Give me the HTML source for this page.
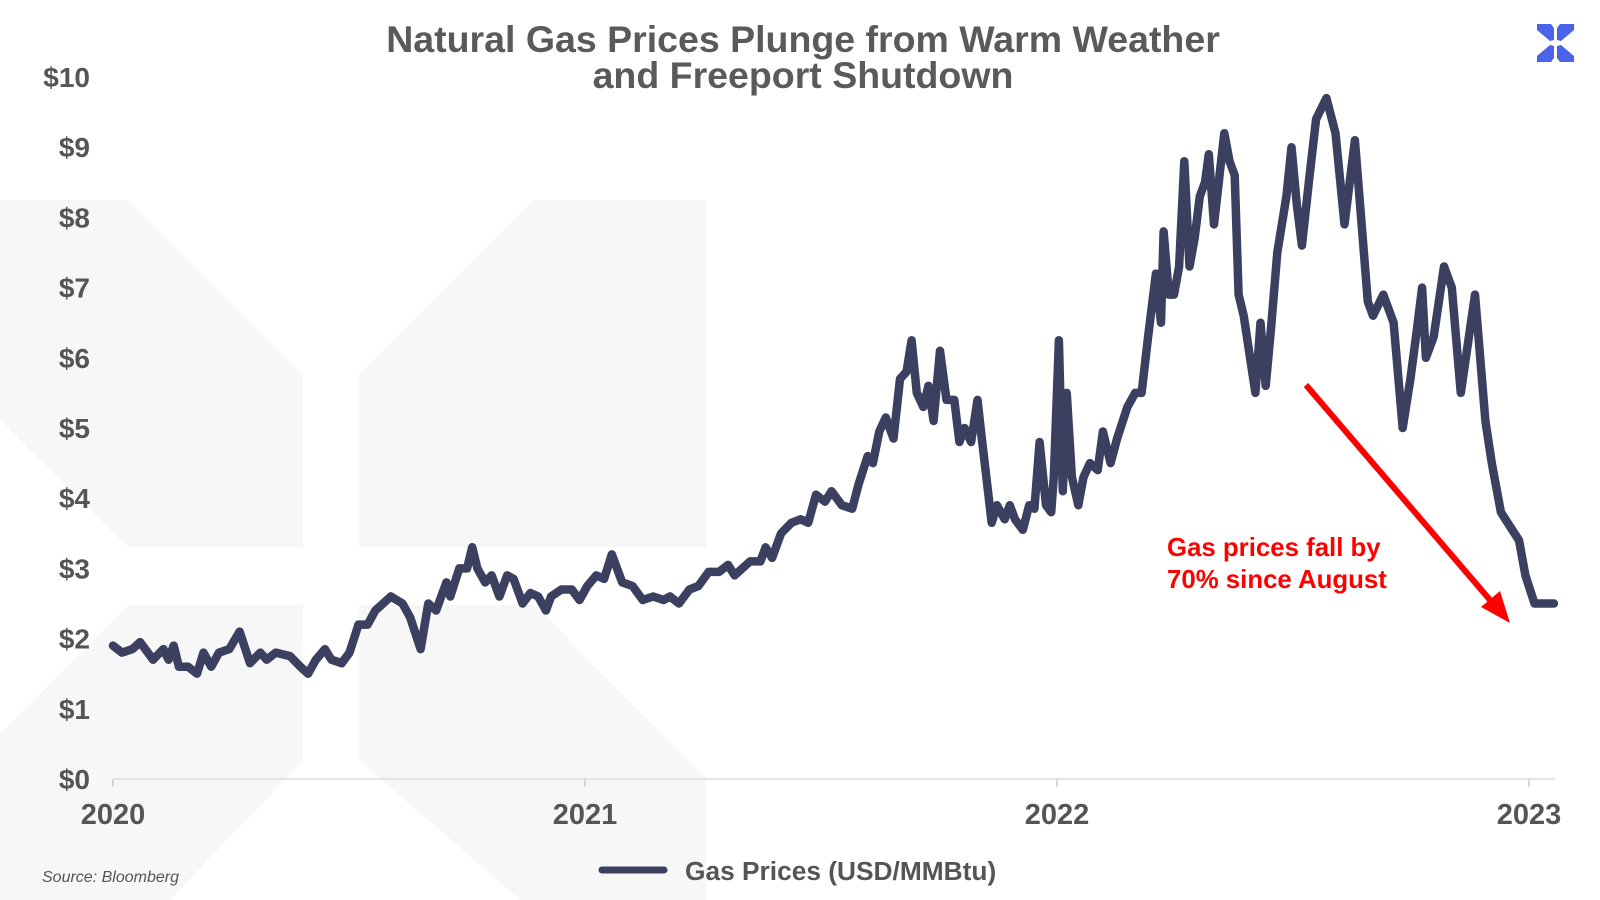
<!DOCTYPE html>
<html><head><meta charset="utf-8"><style>
html,body{margin:0;padding:0;background:#fff;}
svg{display:block;font-family:"Liberation Sans",Arial,sans-serif;}
</style></head><body>
<svg id="chart" width="1600" height="900" viewBox="0 0 1600 900" xmlns="http://www.w3.org/2000/svg">
<g fill="#f7f7f7">
<polygon points="0,200 128,200 303,375 303,547 128,547 0,420"/>
<polygon points="0,735 128,605 303,605 303,760 170,900 0,900"/>
<polygon points="359,375 534,200 706,200 706,547 359,547"/>
<polygon points="359,605 534,605 706,778 706,900 520,900 359,760"/>
</g>
<g fill="#5a5a5a" font-weight="bold" font-size="37.5" text-anchor="middle">
<text x="803" y="52">Natural Gas Prices Plunge from Warm Weather</text>
<text x="803" y="88">and Freeport Shutdown</text>
</g>
<g fill="#4a63e8">
<polygon points="1537,24 1551,24 1554,28 1554,40 1550,41 1537,30"/>
<polygon points="1574,24 1560,24 1557,28 1557,40 1561,41 1574,30"/>
<polygon points="1537,62 1551,62 1554,58 1554,46 1550,45 1537,56"/>
<polygon points="1574,62 1560,62 1557,58 1557,46 1561,45 1574,56"/>
</g>
<g id="yaxis"></g>
<g id="xaxis"></g>
<g id="series"></g>
<g>
<line x1="1306" y1="385" x2="1496" y2="607" stroke="#ff0000" stroke-width="6"/>
<polygon points="1510,623 1481,607 1500,591" fill="#ff0000"/>
<text x="1167" y="556" fill="#ff0000" font-weight="bold" font-size="25.8">Gas prices fall by</text>
<text x="1167" y="588" fill="#ff0000" font-weight="bold" font-size="25.8">70% since August</text>
</g>
<g>
<line x1="602" y1="870" x2="664" y2="870" stroke="#3b4060" stroke-width="7" stroke-linecap="round"/>
<text x="685" y="880" fill="#555" font-weight="bold" font-size="26.3">Gas Prices (USD/MMBtu)</text>
</g>
<text x="42" y="882" fill="#555" font-style="italic" font-size="16">Source: Bloomberg</text>
</svg>
<script>
const days = [0,7,15,21,31,39,43,47,51,58,65,70,76,82,90,98,106,114,119,126,137,145,151,157,164,169,177,183,190,197,203,209,215,224,230,238,244,250,258,261,268,274,278,282,288,293,299,305,310,317,323,329,335,339,347,355,361,367,
374,380,386,394,402,410,418,426,431,438,446,453,461,469,476,481,493,501,505,510,517,525,532,538,544,551,556,564,572,577,584,588,593,598,604,609,614,618,622,627,631,635,640,645,651,655,659,664,669,672,680,684,690,694,698,704,709,713,717,722,726,728,
732,735,738,742,747,751,756,762,766,772,777,785,791,796,801,807,811,813,817,821,825,829,833,837,841,845,848,852,860,864,868,871,875,884,888,892,896,901,908,912,916,920,926,931,939,946,953,961,971,975,983,991,998,1004,1009,1013,1016,1022,1030,1036,1043,1054,1062,1067,1074,1081,1088,1093,1100,1107,1115];
const prices = [1.9,1.8,1.85,1.95,1.7,1.85,1.7,1.9,1.6,1.6,1.5,1.8,1.6,1.8,1.85,2.1,1.65,1.8,1.7,1.8,1.75,1.6,1.5,1.7,1.85,1.7,1.65,1.8,2.2,2.2,2.4,2.5,2.6,2.5,2.3,1.85,2.5,2.4,2.8,2.6,3.0,3.0,3.3,3.0,2.8,2.9,2.6,2.9,2.85,2.5,2.65,2.6,2.4,2.6,2.7,2.7,2.55,2.75,
2.9,2.85,3.2,2.8,2.75,2.55,2.6,2.55,2.6,2.5,2.7,2.75,2.95,2.95,3.05,2.9,3.1,3.1,3.3,3.15,3.5,3.65,3.7,3.65,4.05,3.95,4.1,3.9,3.85,4.2,4.6,4.5,4.95,5.15,4.85,5.7,5.8,6.25,5.5,5.3,5.6,5.1,6.1,5.4,5.4,4.8,5.0,4.8,5.4,4.9,3.65,3.9,3.7,3.9,3.7,3.55,3.9,3.85,4.8,3.9,3.8,4.3,
6.25,4.1,5.5,4.3,3.9,4.3,4.5,4.4,4.95,4.5,4.85,5.3,5.5,5.5,6.3,7.2,6.5,7.8,6.9,6.9,7.3,8.8,7.3,7.7,8.3,8.5,8.9,7.9,9.2,8.8,8.6,6.9,6.6,5.5,6.5,5.6,6.4,7.5,8.3,9.0,8.2,7.6,8.6,9.4,9.7,9.2,7.9,9.1,6.8,6.6,6.9,6.5,5.0,5.7,6.4,7.0,6.0,6.3,7.3,7.0,5.5,6.9,5.1,4.5,3.8,3.6,3.4,2.9,2.5,2.5,2.5];
const yTicks = [0,1,2,3,4,5,6,7,8,9,10];
const yTickLabels = ["$0","$1","$2","$3","$4","$5","$6","$7","$8","$9","$10"];
const xTickYears = [0,1,2,3];
const xTickLabels = ["2020","2021","2022","2023"];

const NS = "http://www.w3.org/2000/svg";
const X0 = 113, PXY = 472, Y0 = 779, PXV = 70.2;
function xScale(d){ return X0 + d / 365.25 * PXY; }
function yScale(v){ return Y0 - v * PXV; }
function mk(tag, attrs){ const e = document.createElementNS(NS, tag); for (const k in attrs) e.setAttribute(k, attrs[k]); return e; }

const ya = document.getElementById('yaxis');
yTicks.forEach((v,i)=>{
  const t = mk('text',{x:90,y:yScale(v)+10,'text-anchor':'end','font-size':28,'font-weight':'bold',fill:'#555'});
  
  
  t.textContent = yTickLabels[i];
  ya.appendChild(t);
});
const xa = document.getElementById('xaxis');
const axisLine = mk('line',{x1:X0,y1:Y0,x2:1555,y2:Y0,stroke:'#ddd','stroke-width':1.5});


xa.appendChild(axisLine);
xTickYears.forEach((yr,i)=>{
  const x = xScale(yr*365.25);
  const tk = mk('line',{x1:x,y1:Y0,x2:x,y2:Y0+8,stroke:'#ccc','stroke-width':1.5});
  
  
  xa.appendChild(tk);
  const t = mk('text',{x:x,y:824,'text-anchor':'middle','font-size':29,'font-weight':'bold',fill:'#555'});
  
  
  t.textContent = xTickLabels[i];
  xa.appendChild(t);
});
const s = document.getElementById('series');
const pts = days.map((d,i)=> xScale(d).toFixed(1)+','+yScale(prices[i]).toFixed(1)).join(' ');
const pl = mk('polyline',{points:pts,fill:'none',stroke:'#3b4060','stroke-width':8.5,'stroke-linejoin':'round','stroke-linecap':'round'});


s.appendChild(pl);
</script>
</body></html>
